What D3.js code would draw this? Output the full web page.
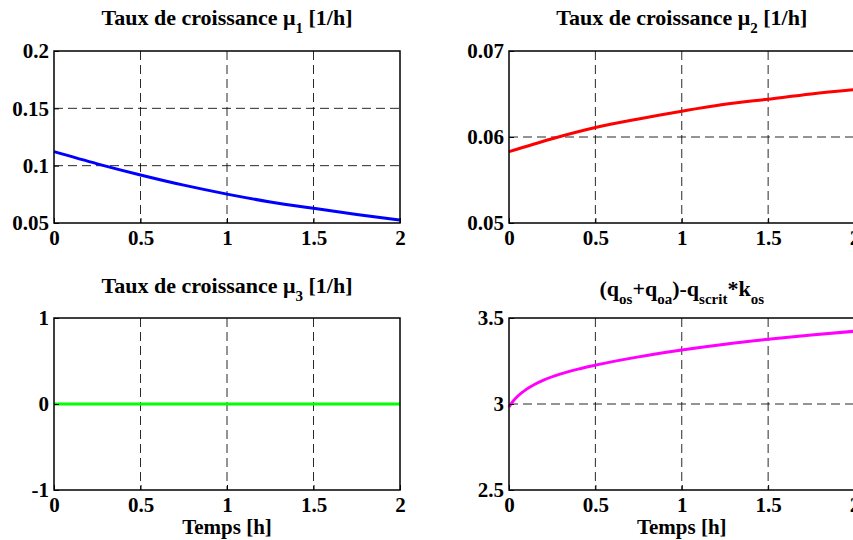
<!DOCTYPE html>
<html><head><meta charset="utf-8">
<script src="https://cdn.jsdelivr.net/npm/d3@7"></script>
<style>
body{margin:0;background:#fff;overflow:hidden}
text{font-family:"Liberation Serif","Times New Roman",serif;font-weight:bold;fill:#000}
</style>
</head><body>
<svg id="chart" width="853" height="540"></svg>
<script>
// ---- data ----
const time1 = [0, 0.25, 0.5, 0.75, 1, 1.25, 1.5, 1.75, 2];
const mu1 = [0.1122, 0.1016, 0.0919, 0.0830, 0.0752, 0.0684, 0.0628, 0.0575, 0.0526];
const mu2 = [0.0583, 0.0598, 0.0611, 0.0621, 0.0630, 0.0638, 0.0644, 0.0650, 0.0655];
const mu3 = [0, 0, 0, 0, 0, 0, 0, 0, 0];
const time4 = [0, 0.025, 0.05, 0.1, 0.15, 0.2, 0.3, 0.4, 0.5, 0.75, 1, 1.25, 1.5, 1.75, 2];
const qDiff = [2.983, 3.018, 3.045, 3.085, 3.115, 3.139, 3.175, 3.203, 3.226, 3.274, 3.314, 3.348, 3.376, 3.401, 3.423];

const xTicks = [0, 0.5, 1, 1.5, 2];
const yTicks1 = [0.05, 0.1, 0.15, 0.2];
const yTicks2 = [0.05, 0.06, 0.07];
const yTicks3 = [-1, 0, 1];
const yTicks4 = [2.5, 3, 3.5];

const title1 = [["Taux de croissance μ", 0], ["1", 1], [" [1/h]", 0]];
const title2 = [["Taux de croissance μ", 0], ["2", 1], [" [1/h]", 0]];
const title3 = [["Taux de croissance μ", 0], ["3", 1], [" [1/h]", 0]];
const title4 = [["(q", 0], ["os", 1], ["+q", 0], ["oa", 1], [")-q", 0], ["scrit", 1], ["*k", 0], ["os", 1]];
const xLabel = "Temps [h]";

const svg = d3.select("#chart");

function panel(o) {
  const x = d3.scaleLinear().domain([0, 2]).range([o.left, o.right]);
  const y = d3.scaleLinear().domain(o.yDomain).range([o.bottom, o.top]);
  const g = svg.append("g");

  // grid
  g.selectAll(".gx").data(xTicks.slice(1, -1)).join("line")
    .attr("x1", d => x(d)).attr("x2", d => x(d))
    .attr("y1", o.top).attr("y2", o.bottom)
    .attr("stroke", "#111").attr("stroke-width", 0.9).attr("stroke-dasharray", "9,5");
  g.selectAll(".gy").data(o.yTicks.slice(1, -1)).join("line")
    .attr("y1", d => y(d)).attr("y2", d => y(d))
    .attr("x1", o.left).attr("x2", o.right)
    .attr("stroke", "#111").attr("stroke-width", 0.9).attr("stroke-dasharray", "9,5");

  // curve
  const line = d3.line().x((d, i) => x(o.t[i])).y(d => y(d)).curve(d3.curveMonotoneX);
  g.append("path").datum(o.v).attr("d", line)
    .attr("fill", "none").attr("stroke", o.color).attr("stroke-width", 3);

  // axes
  const ax = g.append("g").attr("transform", `translate(0,${o.bottom})`)
    .call(d3.axisBottom(x).tickValues(xTicks).tickFormat(d => String(d))
      .tickSizeInner(-5).tickSizeOuter(0).tickPadding(7));
  const ay = g.append("g").attr("transform", `translate(${o.left},0)`)
    .call(d3.axisLeft(y).tickValues(o.yTicks).tickFormat(d => String(d))
      .tickSizeInner(-5).tickSizeOuter(0).tickPadding(5));
  [ax, ay].forEach(a => {
    a.select(".domain").remove();
    a.selectAll("line").attr("stroke", "#000");
    a.selectAll("text").attr("font-size", 21)
      .attr("font-family", '"Liberation Serif","Times New Roman",serif')
      .attr("font-weight", "bold").attr("fill", "#000");
  });

  // box
  g.append("rect").attr("x", o.left).attr("y", o.top)
    .attr("width", o.right - o.left).attr("height", o.bottom - o.top)
    .attr("fill", "none").attr("stroke", "#000").attr("stroke-width", 1.5);

  // title
  const t = g.append("text").attr("x", (o.left + o.right) / 2).attr("y", o.titleY)
    .attr("text-anchor", "middle").attr("font-size", 22);
  o.title.forEach(([s, sub], i) => {
    const ts = t.append("tspan").text(s);
    if (sub) ts.attr("font-size", 15).attr("dy", 7.5);
    else if (i > 0 && o.title[i - 1][1]) ts.attr("dy", -7.5);
  });

  if (o.xlabel) {
    g.append("text").attr("x", (o.left + o.right) / 2).attr("y", o.bottom + 44)
      .attr("text-anchor", "middle").attr("font-size", 21).text(o.xlabel);
  }
}

panel({left: 54, right: 400, top: 51, bottom: 223, yDomain: [0.05, 0.2], yTicks: yTicks1,
  t: time1, v: mu1, color: "#0000ff", title: title1, titleY: 25});
panel({left: 509, right: 854.5, top: 51, bottom: 223, yDomain: [0.05, 0.07], yTicks: yTicks2,
  t: time1, v: mu2, color: "#ff0000", title: title2, titleY: 25});
panel({left: 54, right: 400, top: 318, bottom: 490, yDomain: [-1, 1], yTicks: yTicks3,
  t: time1, v: mu3, color: "#00ff00", title: title3, titleY: 293, xlabel: xLabel});
panel({left: 509, right: 854.5, top: 318, bottom: 490, yDomain: [2.5, 3.5], yTicks: yTicks4,
  t: time4, v: qDiff, color: "#ff00ff", title: title4, titleY: 296, xlabel: xLabel});
</script>
</body></html>
